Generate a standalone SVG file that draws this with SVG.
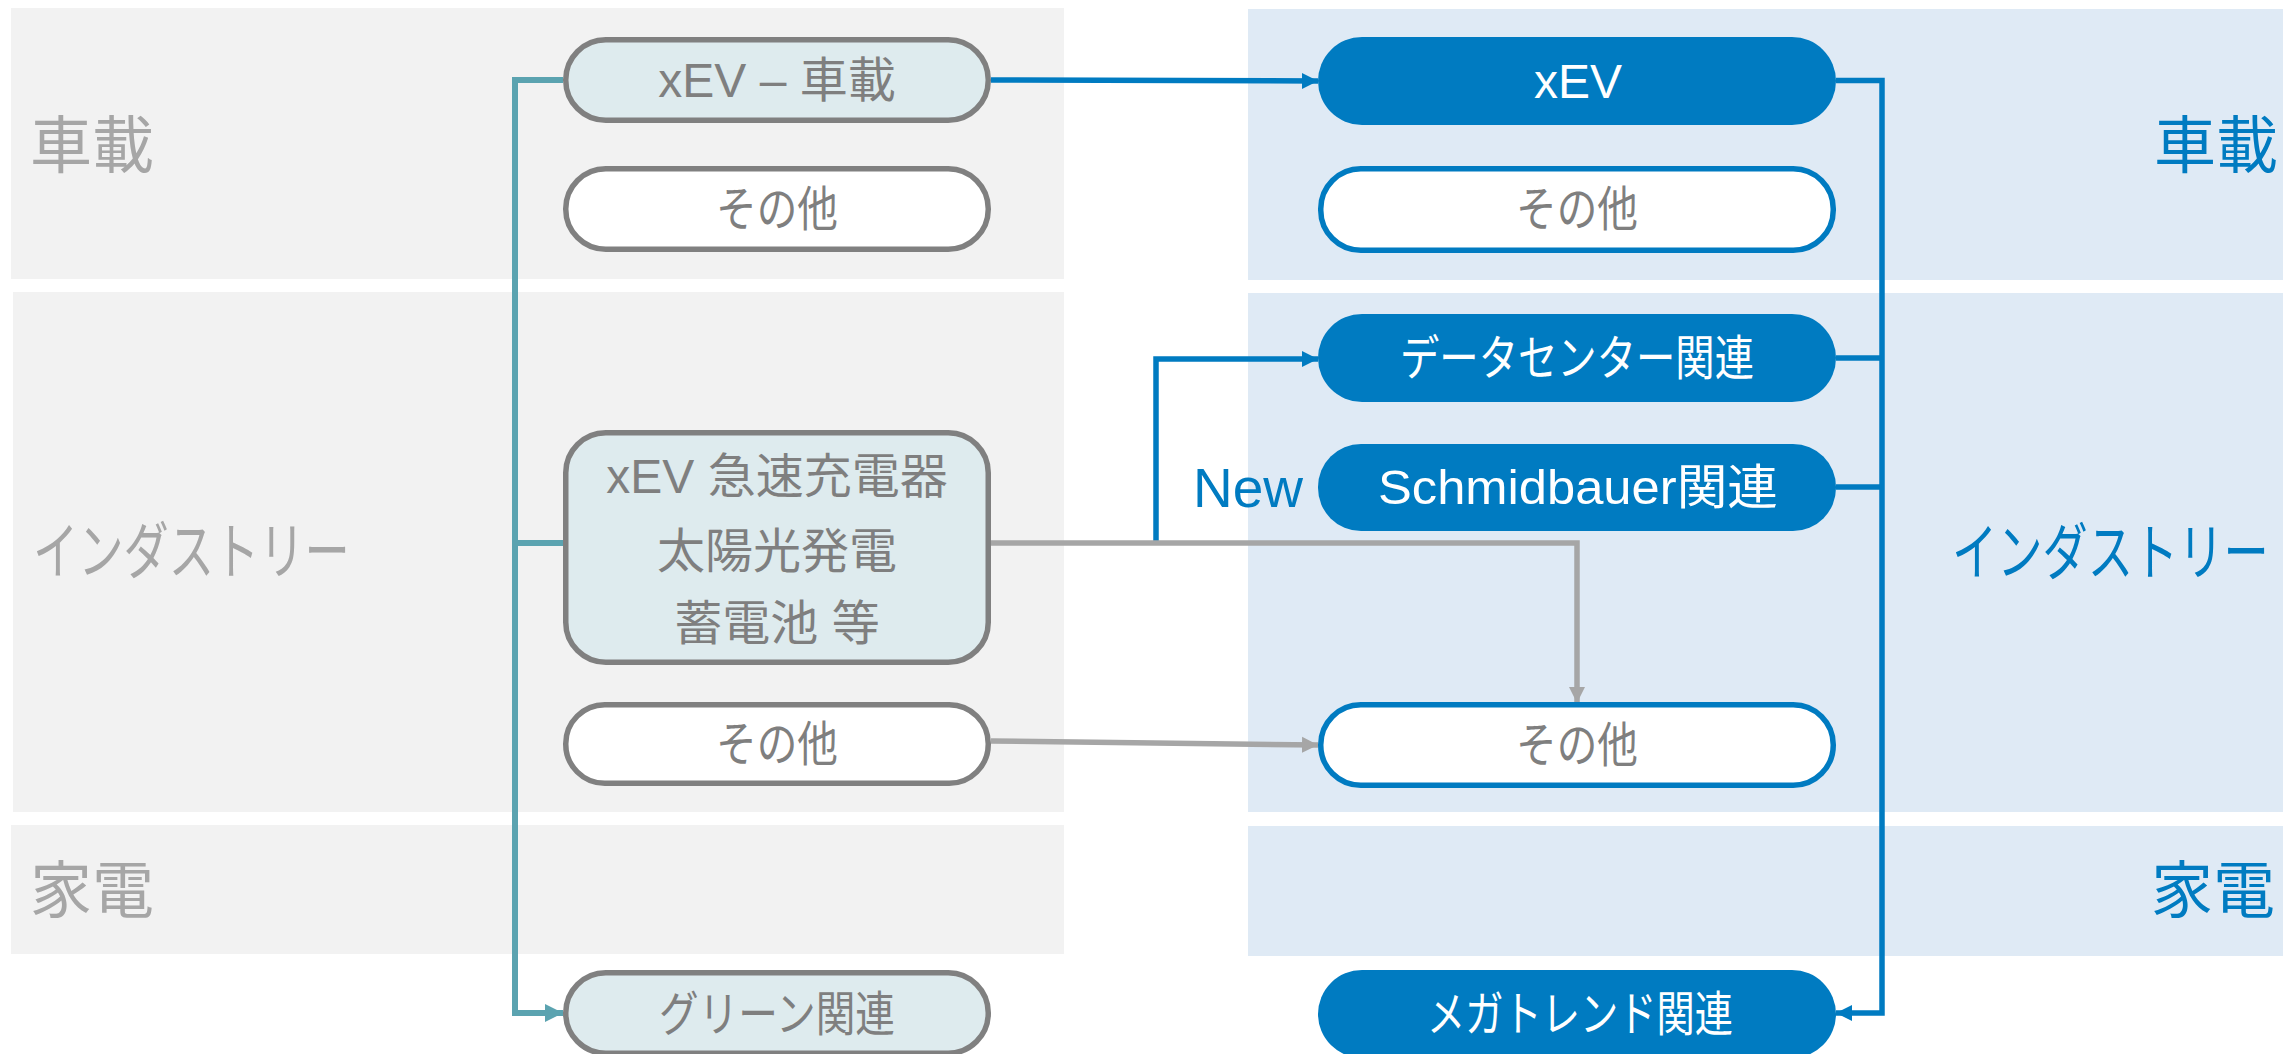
<svg xmlns="http://www.w3.org/2000/svg" width="2283" height="1054" viewBox="0 0 2283 1054">
<defs>
<style>
text{font-family:"Liberation Sans","Noto Sans CJK JP",sans-serif;}
.bandL{fill:#f2f2f2;}
.bandR{fill:#dfeaf5;}
.lblL{fill:#a6a6a6;font-size:62px;dominant-baseline:central;}
.lblR{fill:#007bc1;font-size:62px;dominant-baseline:central;}
.nL{fill:#deebee;stroke:#808080;stroke-width:5.5;}
.nW{fill:#ffffff;stroke:#808080;stroke-width:5.5;}
.nB{fill:#007bc1;stroke:none;}
.nBo{fill:#ffffff;stroke:#007bc1;stroke-width:5.5;}
.t{font-size:48px;text-anchor:middle;dominant-baseline:central;fill:#7f7f7f;}
.tw{font-size:48px;text-anchor:middle;dominant-baseline:central;fill:#ffffff;}
.cB{fill:none;stroke:#007bc1;stroke-width:5.5;}
.cG{fill:none;stroke:#a6a6a6;stroke-width:5.5;}
.cT{fill:none;stroke:#5ba3b0;stroke-width:6;}
</style>
<marker id="aB" markerUnits="userSpaceOnUse" markerWidth="17" markerHeight="18" refX="16" refY="9" orient="auto"><path d="M0,1 L16,9 L0,17 z" fill="#007bc1"/></marker>
<marker id="aG" markerUnits="userSpaceOnUse" markerWidth="17" markerHeight="18" refX="16" refY="9" orient="auto"><path d="M0,1 L16,9 L0,17 z" fill="#a6a6a6"/></marker>
<marker id="aT" markerUnits="userSpaceOnUse" markerWidth="19" markerHeight="20" refX="18" refY="10" orient="auto"><path d="M0,1 L18,10 L0,19 z" fill="#5ba3b0"/></marker>
</defs>

<g id="bands">
<rect class="bandL" x="11" y="8" width="1053" height="271"/>
<rect class="bandL" x="13" y="292" width="1051" height="520"/>
<rect class="bandL" x="11" y="825" width="1053" height="129"/>
<rect class="bandR" x="1248" y="9" width="1035" height="271"/>
<rect class="bandR" x="1248" y="293" width="1035" height="519"/>
<rect class="bandR" x="1248" y="826" width="1035" height="130"/>
</g>

<g id="labels">
<text class="lblL" x="30" y="146">車載</text>
<text class="lblL" transform="translate(33,553) scale(0.73,1)" x="0" y="0">インダストリー</text>
<text class="lblL" x="30" y="891">家電</text>
<text class="lblR" x="2154" y="146">車載</text>
<text class="lblR" transform="translate(1952,554) scale(0.73,1)" x="0" y="0">インダストリー</text>
<text class="lblR" x="2151" y="891">家電</text>
<text x="1193" y="507" font-size="55" fill="#007bc1">New</text>
</g>

<g id="connectors">
<path class="cT" d="M563,80 H515 V1013 H563" marker-end="url(#aT)"/>
<path class="cT" d="M515,543 H563"/>
<path class="cB" d="M991,80 L1318,81" marker-end="url(#aB)"/>
<path class="cB" d="M1836,80.5 H1882 V1013 H1836" marker-end="url(#aB)"/>
<path class="cB" d="M1836,358 H1882"/>
<path class="cB" d="M1836,487 H1882"/>
<path class="cB" d="M1156,543 V359 H1318" marker-end="url(#aB)"/>
<path class="cG" d="M991,543 H1577 V703" marker-end="url(#aG)"/>
<path class="cG" d="M991,741 L1318,745" marker-end="url(#aG)"/>
</g>

<g id="n-xev-car">
<rect class="nL" x="565.75" y="39.75" width="422.5" height="80.5" rx="40"/>
<text class="t" x="777" y="80">xEV – 車載</text>
</g>
<g id="n-other-car-l">
<rect class="nW" x="565.75" y="168.75" width="422.5" height="80.5" rx="40"/>
<text class="t" x="777" y="209" textLength="122" lengthAdjust="spacingAndGlyphs">その他</text>
</g>
<g id="n-charger">
<rect class="nL" x="565.75" y="432.75" width="422.5" height="229.5" rx="40"/>
<text class="t" x="777" y="476">xEV 急速充電器</text>
<text class="t" x="777" y="551">太陽光発電</text>
<text class="t" x="777" y="623">蓄電池 等</text>
</g>
<g id="n-other-ind-l">
<rect class="nW" x="565.75" y="704.75" width="422.5" height="78.5" rx="39"/>
<text class="t" x="777" y="744" textLength="122" lengthAdjust="spacingAndGlyphs">その他</text>
</g>
<g id="n-green">
<rect class="nL" x="565.75" y="972.75" width="422.5" height="80.5" rx="40"/>
<text class="t" x="777" y="1014" textLength="236" lengthAdjust="spacingAndGlyphs">グリーン関連</text>
</g>

<g id="n-xev">
<rect class="nB" x="1318" y="37" width="518" height="88" rx="44"/>
<text class="tw" x="1578" y="81">xEV</text>
</g>
<g id="n-other-car-r">
<rect class="nBo" x="1320.75" y="168.75" width="512.5" height="81.5" rx="40"/>
<text class="t" x="1577" y="209" textLength="122" lengthAdjust="spacingAndGlyphs">その他</text>
</g>
<g id="n-datacenter">
<rect class="nB" x="1318" y="314" width="518" height="88" rx="44"/>
<text class="tw" x="1577" y="358" textLength="354" lengthAdjust="spacingAndGlyphs">データセンター関連</text>
</g>
<g id="n-schmidbauer">
<rect class="nB" x="1318" y="444" width="518" height="87" rx="43"/>
<text class="tw" x="1578" y="487" textLength="400" lengthAdjust="spacingAndGlyphs">Schmidbauer関連</text>
</g>
<g id="n-other-ind-r">
<rect class="nBo" x="1320.75" y="704.75" width="512.5" height="80.5" rx="40"/>
<text class="t" x="1577" y="745" textLength="122" lengthAdjust="spacingAndGlyphs">その他</text>
</g>
<g id="n-megatrend">
<rect class="nB" x="1318" y="970" width="518" height="88" rx="44"/>
<text class="tw" x="1580" y="1014" textLength="306" lengthAdjust="spacingAndGlyphs">メガトレンド関連</text>
</g>
</svg>
